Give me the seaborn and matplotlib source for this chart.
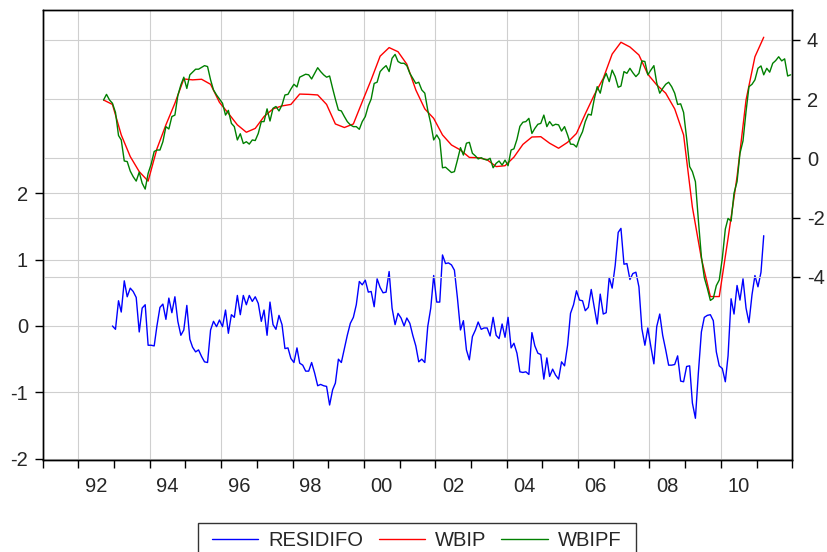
import pandas as pd
import matplotlib.pyplot as plt
from matplotlib.lines import Line2D
import seaborn as sns

# Data (monthly residual, monthly fitted, quarterly actual)
residifo = [
    0.00, -0.05, 0.38, 0.21, 0.68, 0.44, 0.57, 0.52, 0.43, -0.09, 0.27, 0.32,
    -0.29, -0.29, -0.30, 0.00, 0.28, 0.33, 0.10, 0.42, 0.20, 0.44, 0.07, -0.14,
    -0.06, 0.31, -0.20, -0.32, -0.39, -0.36, -0.46, -0.54, -0.55, -0.06, 0.07, -0.01,
    0.09, -0.01, 0.24, -0.11, 0.17, 0.13, 0.46, 0.17, 0.46, 0.32, 0.46, 0.37,
    0.44, 0.34, 0.07, 0.24, -0.14, 0.36, 0.02, -0.05, 0.16, 0.02, -0.34, -0.33,
    -0.49, -0.55, -0.33, -0.56, -0.59, -0.68, -0.68, -0.55, -0.71, -0.90, -0.88, -0.90,
    -0.91, -1.19, -0.96, -0.86, -0.50, -0.55, -0.34, -0.14, 0.04, 0.13, 0.32, 0.67,
    0.62, 0.69, 0.51, 0.52, 0.29, 0.71, 0.58, 0.50, 0.51, 0.82, 0.27, 0.02,
    0.19, 0.12, 0.00, 0.12, 0.04, -0.14, -0.30, -0.54, -0.50, -0.55, -0.01, 0.27,
    0.76, 0.36, 0.36, 1.07, 0.94, 0.95, 0.92, 0.84, 0.42, -0.06, 0.08, -0.36,
    -0.51, -0.16, -0.06, 0.06, -0.05, -0.03, -0.03, -0.15, 0.13, -0.14, -0.19, 0.03,
    -0.17, 0.13, -0.33, -0.26, -0.41, -0.69, -0.70, -0.69, -0.73, -0.10, -0.30, -0.41,
    -0.43, -0.80, -0.48, -0.76, -0.65, -0.74, -0.80, -0.54, -0.60, -0.29, 0.19, 0.32,
    0.53, 0.39, 0.38, 0.23, 0.28, 0.55, 0.28, 0.03, 0.48, 0.18, 0.20, 0.73,
    0.57, 0.91, 1.41, 1.47, 0.93, 0.94, 0.70, 0.79, 0.81, 0.59, -0.04, -0.29,
    -0.03, -0.31, -0.57, -0.01, 0.18, -0.14, -0.36, -0.59, -0.59, -0.58, -0.45, -0.83,
    -0.84, -0.61, -0.60, -1.16, -1.39, -0.71, -0.09, 0.13, 0.16, 0.17, 0.08, -0.39,
    -0.60, -0.64, -0.84, -0.45, 0.41, 0.18, 0.61, 0.39, 0.71, 0.27, 0.05, 0.47,
    0.76, 0.59, 0.81, 1.36,
]

wbipf = [
    1.97, 2.16, 1.97, 1.86, 1.55, 0.77, 0.62, -0.09, -0.11, -0.43, -0.62, -0.77,
    -0.47, -0.84, -1.04, -0.51, -0.20, 0.23, 0.28, 0.28, 0.56, 1.07, 0.99, 1.41,
    1.46, 2.12, 2.48, 2.74, 2.36, 2.82, 2.91, 3.01, 3.01, 3.07, 3.13, 3.10,
    2.65, 2.31, 2.14, 2.00, 1.86, 1.46, 1.62, 1.18, 1.07, 0.62, 0.83, 0.50,
    0.56, 0.48, 0.62, 0.60, 0.84, 1.24, 1.24, 1.67, 1.26, 1.69, 1.75, 1.60,
    1.80, 2.14, 2.16, 2.34, 2.50, 2.41, 2.74, 2.79, 2.84, 2.82, 2.68, 2.87,
    3.06, 2.93, 2.82, 2.74, 2.78, 2.36, 2.00, 1.63, 1.60, 1.41, 1.24, 1.13,
    1.07, 1.07, 0.98, 1.24, 1.41, 1.77, 2.00, 2.53, 2.57, 2.93, 3.04, 3.13,
    2.93, 3.38, 3.51, 3.27, 3.21, 3.21, 3.13, 2.87, 2.70, 2.53, 2.57, 2.31,
    2.20, 1.63, 1.18, 0.62, 0.79, 0.62, -0.32, -0.30, -0.39, -0.48, -0.45, -0.06,
    0.36, 0.11, 0.51, 0.54, 0.17, 0.08, -0.02, 0.02, -0.03, -0.06, 0.00, -0.32,
    -0.17, -0.09, -0.23, -0.06, -0.25, 0.28, 0.32, 0.64, 1.08, 1.22, 1.24, 1.35,
    0.84, 1.01, 1.15, 1.18, 1.46, 1.07, 1.24, 1.10, 1.15, 1.13, 0.92, 1.07,
    0.79, 0.48, 0.47, 0.38, 0.68, 0.90, 1.24, 1.49, 1.46, 2.00, 2.42, 2.20,
    2.65, 2.87, 2.59, 2.98, 2.76, 2.40, 2.44, 2.93, 2.87, 3.04, 2.89, 2.76,
    2.87, 3.29, 3.27, 2.82, 2.98, 3.13, 2.55, 2.20, 2.36, 2.50, 2.57, 2.42,
    2.20, 1.82, 1.84, 1.55, 0.68, -0.28, -0.45, -0.79, -2.08, -3.32, -4.03, -4.39,
    -4.80, -4.73, -4.30, -4.11, -3.38, -2.39, -2.03, -2.12, -1.18, -0.79, 0.17, 0.59,
    1.58, 2.42, 2.50, 2.65, 3.04, 3.12, 2.82, 3.04, 2.91, 3.21, 3.30, 3.43,
    3.29, 3.36, 2.78, 2.82,
]

wbip = [
    1.97, 1.82, 0.79, 0.06, -0.45, -0.77, 0.32, 1.13, 1.86, 2.68, 2.65, 2.67,
    2.50, 1.89, 1.52, 1.13, 0.88, 1.01, 1.41, 1.67, 1.77, 1.82, 2.17, 2.16,
    2.14, 1.82, 1.16, 1.04, 1.16, 1.91, 2.65, 3.45, 3.74, 3.60, 3.18, 2.31,
    1.67, 1.35, 0.79, 0.45, 0.28, 0.03, 0.02, -0.05, -0.28, -0.25, 0.04, 0.47,
    0.72, 0.73, 0.51, 0.34, 0.54, 0.84, 1.50, 2.14, 2.70, 3.52, 3.92, 3.76,
    3.49, 2.84, 2.48, 2.20, 1.67, 0.79, -1.65, -3.38, -4.67, -4.67, -2.70, -0.62,
    1.97, 3.43, 4.09,
]

label_years = [1992, 1994, 1996, 1998, 2000, 2002, 2004, 2006, 2008, 2010]
year_labels = ['92', '94', '96', '98', '00', '02', '04', '06', '08', '10']
series_names = ['RESIDIFO', 'WBIP', 'WBIPF']
series_colors = ['#0000ff', '#ff0000', '#008000']

mid = pd.Timedelta(days=14)
df_res = pd.DataFrame({'date': pd.date_range('1992-12-01', periods=len(residifo), freq='MS') + mid,
                       'val': residifo})
df_fit = pd.DataFrame({'date': pd.date_range('1992-09-01', periods=len(wbipf), freq='MS') + mid,
                       'val': wbipf})
df_act = pd.DataFrame({'date': pd.date_range('1992-09-01', periods=len(wbip), freq='3MS') + mid,
                       'val': wbip})

sns.set_style('white')
plt.rcParams['font.family'] = ['Liberation Sans', 'DejaVu Sans']
plt.rcParams['axes.unicode_minus'] = False

fig = plt.figure(figsize=(8.27, 5.52), dpi=100)
ax = fig.add_axes([0.0516, 0.1667, 0.9064, 0.8152])
ax2 = ax.twinx()

grid_c = '#cfcfcf'
for y in label_years:
    ax.axvline(pd.Timestamp(f'{y}-01-01'), color=grid_c, lw=0.8, zorder=0)

sns.lineplot(data=df_res, x='date', y='val', ax=ax, color=series_colors[0], lw=1.0, legend=False)
sns.lineplot(data=df_act, x='date', y='val', ax=ax2, color=series_colors[1], lw=1.0, legend=False)
sns.lineplot(data=df_fit, x='date', y='val', ax=ax2, color=series_colors[2], lw=1.0, legend=False)

ax.set_xlim(pd.Timestamp('1991-01-01'), pd.Timestamp('2012-01-01'))
ax.set_ylim(-2.018, 4.759)
ax2.set_ylim(-10.19, 5.01)

ax.set_yticks([-2, -1, 0, 1, 2])
ax2.set_yticks([-4, -2, 0, 2, 4])
ax.grid(axis='y', color=grid_c, lw=0.8)
ax2.grid(axis='y', color=grid_c, lw=0.8)
ax.set_axisbelow(True)
ax2.set_axisbelow(True)

ax.set_xticks([pd.Timestamp(f'{y}-01-01') for y in range(1991, 2013)])
ax.set_xticklabels([])
ax.set_xticks([pd.Timestamp(f'{y}-07-01') for y in label_years], minor=True)
ax.set_xticklabels(year_labels, minor=True)
ax.tick_params(axis='x', which='major', bottom=True, length=5.5, width=1, direction='out', color='black')
ax.tick_params(axis='x', which='minor', bottom=True, length=0, pad=12, labelsize=14.5)
ax.tick_params(axis='y', left=True, length=5.5, width=1, direction='out', pad=5, labelsize=14.5, color='black')
ax2.tick_params(axis='y', right=True, length=5.5, width=1, direction='out', pad=5, labelsize=14.5, color='black')

for a in (ax, ax2):
    a.set_xlabel('')
    a.set_ylabel('')
    for s in a.spines.values():
        s.set_color('black')
        s.set_linewidth(1.0)

handles = [Line2D([], [], color=c, lw=1.0) for c in series_colors]
leg = fig.legend(handles, series_names,
                 loc='upper center', bbox_to_anchor=(0.504, 0.0531), ncol=3,
                 fontsize=14.5, handlelength=2.3, handletextpad=0.5, columnspacing=0.75,
                 borderpad=0.4, borderaxespad=0, fancybox=False, frameon=True)
frame = leg.get_frame()
frame.set_edgecolor('black')
frame.set_linewidth(1.0)
# widen the box sideways only
frame.set_boxstyle('square', pad=0.3)
frame.set_mutation_aspect(0.01)

fig.savefig('out.png', dpi=100)
